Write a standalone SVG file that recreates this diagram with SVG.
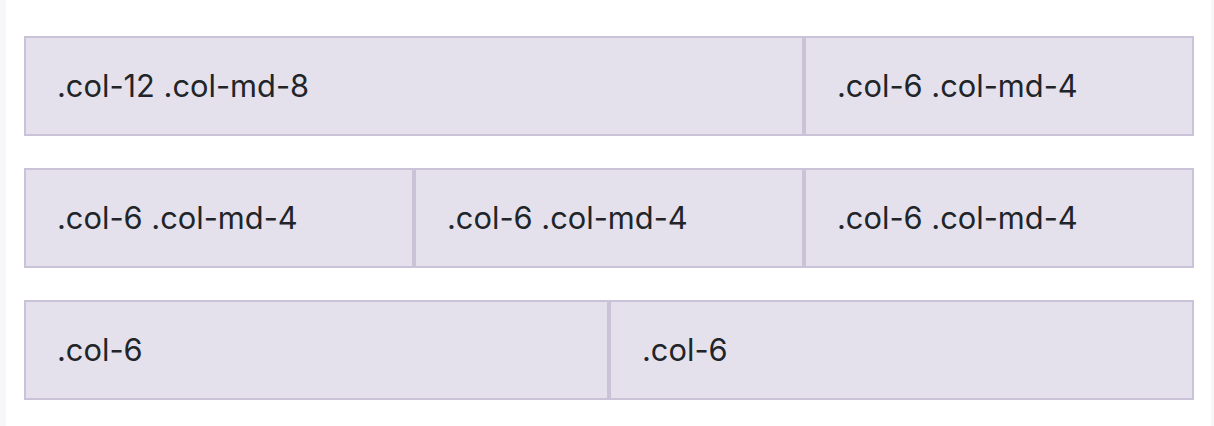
<svg xmlns="http://www.w3.org/2000/svg" width="1214" height="426" viewBox="0 0 1214 426">
<style>
.cell{fill:#e4e1ec;stroke:#cac2d6;stroke-width:2}
.lbl{font-family:Inter,"Liberation Sans",sans-serif;font-size:30.8px;fill:#212529}
</style>
<rect x="0" y="0" width="1214" height="426" fill="#f7f7f9"/>
<rect x="6" y="0" width="1205" height="426" fill="#ffffff"/>
<g id="row1">
<g id="r1c1"><rect class="cell" x="25" y="37" width="778" height="98"/><text class="lbl" x="57" y="97">.col-12 .col-md-8</text></g>
<g id="r1c2"><rect class="cell" x="805" y="37" width="388" height="98"/><text class="lbl" x="837" y="97">.col-6 .col-md-4</text></g>
</g>
<g id="row2">
<g id="r2c1"><rect class="cell" x="25" y="169" width="388" height="98"/><text class="lbl" x="57" y="229">.col-6 .col-md-4</text></g>
<g id="r2c2"><rect class="cell" x="415" y="169" width="388" height="98"/><text class="lbl" x="447" y="229">.col-6 .col-md-4</text></g>
<g id="r2c3"><rect class="cell" x="805" y="169" width="388" height="98"/><text class="lbl" x="837" y="229">.col-6 .col-md-4</text></g>
</g>
<g id="row3">
<g id="r3c1"><rect class="cell" x="25" y="301" width="583" height="98"/><text class="lbl" x="57" y="361">.col-6</text></g>
<g id="r3c2"><rect class="cell" x="610" y="301" width="583" height="98"/><text class="lbl" x="642" y="361">.col-6</text></g>
</g>
<g id="connectors"/>
</svg>
